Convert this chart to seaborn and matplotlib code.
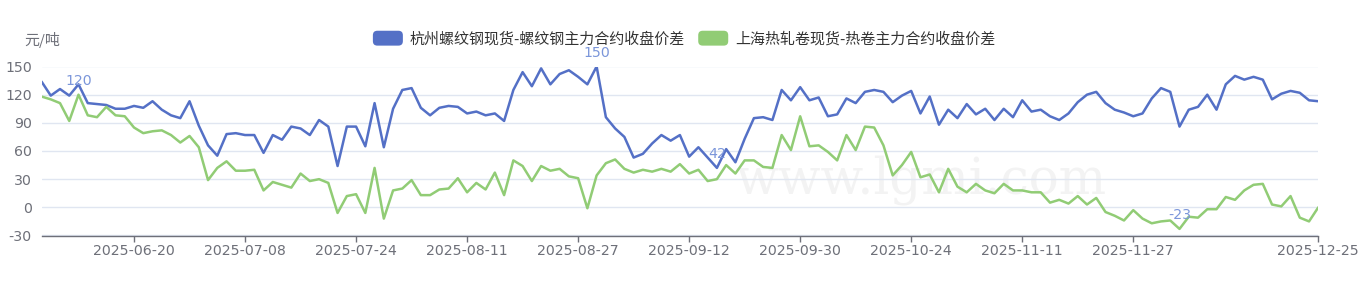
import numpy as np
import pandas as pd
import matplotlib
matplotlib.use("Agg")
import matplotlib.pyplot as plt
from matplotlib.patches import Patch, FancyBboxPatch
from matplotlib.legend_handler import HandlerPatch
import seaborn as sns

# ---------------- data ----------------
series_names = ["杭州螺纹钢现货-螺纹钢主力合约收盘价差", "上海热轧卷现货-热卷主力合约收盘价差"]
unit_label = "元/吨"

rebar_spread = [134, 119, 126, 119, 131, 111, 110, 109, 105, 105, 108, 106, 113, 104, 98, 95, 113, 87, 66, 55,
                78, 79, 77, 77, 58, 77, 72, 86, 84, 77, 93, 86, 44, 86, 86, 65, 111, 64, 105, 125,
                127, 106, 98, 106, 108, 107, 100, 102, 98, 100, 92, 125, 144, 129, 148, 131, 142, 146, 139, 131,
                150, 96, 84, 75, 53, 57, 68, 77, 71, 77, 54, 64, 53, 42, 62, 48, 73, 95, 96, 93,
                125, 114, 128, 114, 117, 97, 99, 116, 111, 123, 125, 123, 112, 119, 124, 100, 118, 88, 104, 95,
                110, 99, 105, 93, 105, 96, 114, 102, 104, 97, 93, 100, 112, 120, 123, 111, 104, 101, 97, 100,
                116, 127, 123, 86, 104, 107, 120, 104, 131, 140, 136, 139, 136, 115, 121, 124, 122, 114, 113]

hrc_spread = [118, 115, 111, 92, 120, 98, 96, 107, 98, 97, 85, 79, 81, 82, 77, 69, 76, 64, 29, 42,
              49, 39, 39, 40, 18, 27, 24, 21, 36, 28, 30, 26, -6, 12, 14, -6, 42, -12, 18, 20,
              29, 13, 13, 19, 20, 31, 16, 26, 19, 37, 13, 50, 44, 28, 44, 39, 41, 33, 31, -1,
              34, 47, 51, 41, 37, 40, 38, 41, 38, 46, 36, 40, 28, 30, 45, 36, 50, 50, 43, 42,
              77, 61, 97, 65, 66, 59, 50, 77, 61, 86, 85, 66, 34, 45, 59, 32, 35, 16, 41, 22,
              16, 25, 18, 15, 25, 18, 18, 16, 16, 5, 8, 4, 12, 3, 10, -5, -9, -14, -3, -12,
              -17, -15, -14, -23, -10, -11, -2, -2, 11, 8, 18, 24, 25, 3, 1, 12, -11, -15, 0]

holidays = ["2025-10-01", "2025-10-02", "2025-10-03", "2025-10-06", "2025-10-07", "2025-10-08"]
dates = [d for d in pd.bdate_range("2025-06-06", "2025-12-25") if d.strftime("%Y-%m-%d") not in holidays]
date_labels = [d.strftime("%Y-%m-%d") for d in dates]
tick_idx = [10, 22, 34, 46, 58, 70, 82, 94, 106, 118, 138]

y_ticks = [-30, 0, 30, 60, 90, 120, 150]

# ---------------- style ----------------
colors = ["#5470c6", "#91cc75"]
axis_grey = "#6E7079"
grid_col = "#E0E6F1"
mark_col = "#7b96da"

sns.set_theme(style="white")
plt.rcParams["font.family"] = ["DejaVu Sans", "Noto Sans CJK SC"]

df = pd.concat([
    pd.DataFrame({"idx": np.arange(len(rebar_spread)), "value": rebar_spread, "series": series_names[0]}),
    pd.DataFrame({"idx": np.arange(len(hrc_spread)), "value": hrc_spread, "series": series_names[1]}),
])

fig = plt.figure(figsize=(13.65, 2.83), dpi=100)
ax = fig.add_axes([41.5 / 1365, 47.5 / 283, 1276.8 / 1365, 169.0 / 283])

# faint watermark
ax.text((735 - 41.5) / 1276.8, 0.33, "www.lgmi.com", transform=ax.transAxes, ha="left", va="center",
        fontsize=36, family="DejaVu Serif", color="#f3f3f3", zorder=0)

sns.lineplot(data=df, x="idx", y="value", hue="series", palette=colors, linewidth=1.8,
             ax=ax, legend=False, zorder=3)

ax.set_xlim(0, len(rebar_spread) - 1)
ax.set_ylim(-30, 150)
ax.set_yticks(y_ticks)
ax.set_yticklabels([str(v) for v in y_ticks])
ax.set_xticks(tick_idx)
ax.set_xticklabels([date_labels[i] for i in tick_idx])
ax.set_xlabel("")
ax.set_ylabel("")

ax.grid(axis="y", color=grid_col, linewidth=1.0, zorder=0)
ax.grid(axis="x", visible=False)
for s in ["top", "right", "left"]:
    ax.spines[s].set_visible(False)
ax.spines["bottom"].set_color(axis_grey)
ax.spines["bottom"].set_linewidth(1.0)
ax.tick_params(axis="y", length=0, pad=7, labelsize=10.2, labelcolor=axis_grey)
ax.tick_params(axis="x", length=4.3, width=1.0, color=axis_grey, pad=2, labelsize=10.2,
               labelcolor=axis_grey, bottom=True)

# mark points: max / min of each series
for vals in (rebar_spread, hrc_spread):
    for i in (int(np.argmax(vals)), int(np.argmin(vals))):
        ax.annotate(str(vals[i]), xy=(i, vals[i]), xytext=(0, 10), textcoords="offset points",
                    ha="center", va="center", fontsize=10.2, color=mark_col, zorder=5,
                    annotation_clip=False)

# y axis name
fig.text(42 / 1365, 1 - 40 / 283, unit_label, ha="center", va="center", fontsize=10.8,
         color=axis_grey, family=["Noto Sans CJK SC", "DejaVu Sans"])


class RoundHandler(HandlerPatch):
    def create_artists(self, legend, orig_handle, xdescent, ydescent, width, height, fontsize, trans):
        p = FancyBboxPatch((-xdescent, -ydescent), width, height,
                           boxstyle=f"round,pad=0,rounding_size={height * 0.3}",
                           fc=orig_handle.get_facecolor(), ec="none", transform=trans)
        return [p]


handles = [Patch(facecolor=c, label=n) for c, n in zip(colors, series_names)]
leg = fig.legend(handles=handles, loc="center", bbox_to_anchor=(684.2 / 1365, 1 - 38.5 / 283),
                 ncol=2, frameon=False, borderpad=0, handlelength=2.0, handleheight=1.15,
                 handletextpad=0.47, columnspacing=0.87,
                 prop={"family": ["Noto Sans CJK SC", "DejaVu Sans"], "size": 10.8},
                 handler_map={Patch: RoundHandler()})
for t in leg.get_texts():
    t.set_color("#333333")

fig.savefig("out.png", dpi=100)
